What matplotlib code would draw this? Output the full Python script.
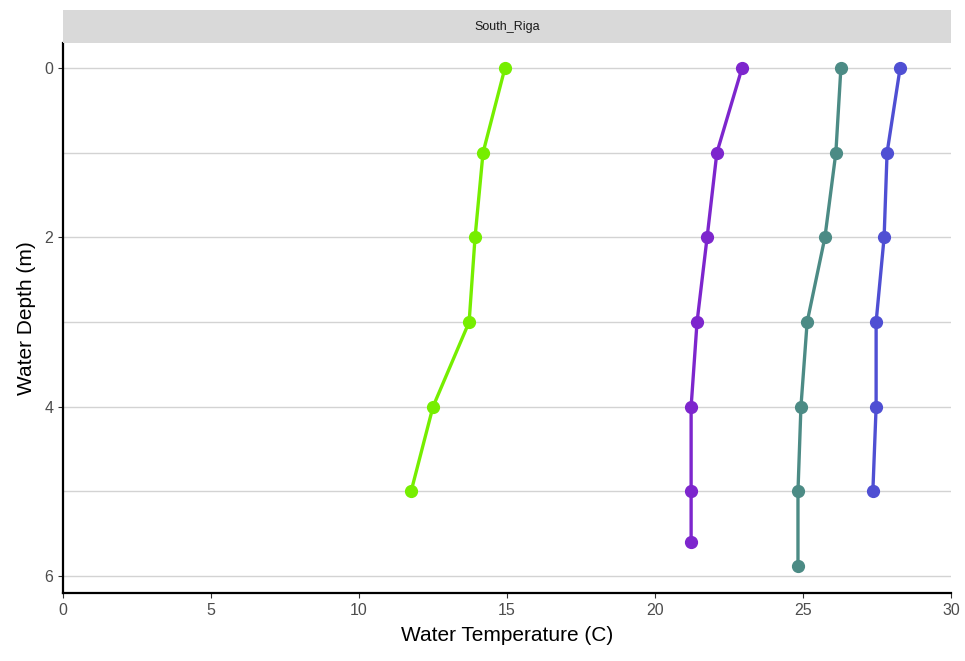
import numpy as np
import matplotlib
matplotlib.use("Agg")
import matplotlib.pyplot as plt
from matplotlib.patches import Rectangle

# depth profiles
depth_green = [0, 1, 2, 3, 4, 5]
temp_green = [14.93, 14.19, 13.92, 13.72, 12.5, 11.76]

depth_purple = [0, 1, 2, 3, 4, 5, 5.6]
temp_purple = [22.94, 22.09, 21.76, 21.42, 21.22, 21.22, 21.22]

depth_teal = [0, 1, 2, 3, 4, 5, 5.88]
temp_teal = [26.28, 26.11, 25.74, 25.14, 24.93, 24.83, 24.83]

depth_blue = [0, 1, 2, 3, 4, 5]
temp_blue = [28.28, 27.84, 27.74, 27.47, 27.47, 27.36]

series = [
    (temp_green, depth_green, '#76EE00'),
    (temp_purple, depth_purple, '#7D26CD'),
    (temp_teal, depth_teal, '#4C8B85'),
    (temp_blue, depth_blue, '#4F4FD3'),
]

plt.rcParams['font.family'] = ['Liberation Sans', 'DejaVu Sans']

fig = plt.figure(figsize=(9.65, 6.61), dpi=100)
ax = fig.add_axes([0.0653, 0.1029, 0.9202, 0.8320])

for t, d, c in series:
    ax.plot(t, d, color=c, lw=2.4, marker='o', markersize=8.5, zorder=3)

ax.set_xlim(0, 30)
ax.set_ylim(6.2, -0.295)
ax.set_xticks([0, 5, 10, 15, 20, 25, 30])
ax.set_yticks([0, 2, 4, 6])
ax.set_yticks([1, 3, 5], minor=True)
ax.grid(axis='y', which='both', color='#D3D3D3', lw=1.0)
ax.set_axisbelow(True)
ax.tick_params(axis='both', which='major', labelsize=11.5, labelcolor='#4D4D4D',
               color='#333333', length=3.5, width=0.8)
ax.tick_params(axis='y', which='minor', length=0)

for s in ['top', 'right']:
    ax.spines[s].set_visible(False)
for s in ['left', 'bottom']:
    ax.spines[s].set_color('black')
    ax.spines[s].set_linewidth(1.6)

ax.set_xlabel('Water Temperature (C)', fontsize=15, color='black', labelpad=6)
ax.set_ylabel('Water Depth (m)', fontsize=15, color='black', labelpad=6)

# facet strip
strip = Rectangle((0.0653, 0.9349), 0.9202, 0.0500, transform=fig.transFigure,
                  facecolor='#D9D9D9', edgecolor='none')
fig.patches.append(strip)
fig.text(0.0653 + 0.9202 / 2, 0.9349 + 0.025, 'South_Riga', ha='center', va='center',
         fontsize=9, color='#1A1A1A')

fig.savefig('out.png', dpi=100)
